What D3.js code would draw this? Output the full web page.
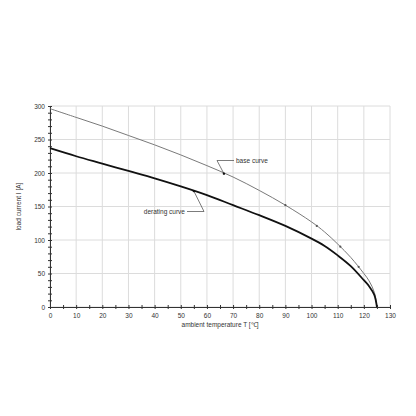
<!DOCTYPE html>
<html>
<head>
<meta charset="utf-8">
<script src="https://cdn.jsdelivr.net/npm/d3@7"></script>
<style>
  body { margin: 0; background: #fff; }
  svg text { font-family: "Liberation Sans", Arial, sans-serif; fill: #333; }
</style>
</head>
<body>
<div id="chart"></div>
<script>
// data
var temps = [0, 10, 20, 30, 40, 50, 60, 70, 80, 90, 100, 105, 110, 115, 120, 122, 124, 125]
var baseCurve = [296, 283, 270, 256, 242, 227, 211, 194, 174, 152, 127, 112, 94, 74, 50, 39, 22, 0]
var deratingCurve = [237, 225, 214, 203, 192, 180, 167, 152, 137, 121, 102, 91, 77, 61, 40, 31, 18, 0]
var baseMarkers = [[90, 152], [102, 121], [111, 90], [118, 60]]
var xTicks = d3.range(0, 131, 10)
var yTicks = d3.range(0, 301, 50)
var labels = [
  { text: 'base curve', at: [66.5, 199], bend: [217, 160.5], end: [234, 160.5], anchor: 'start' },
  { text: 'derating curve', at: [55, 173], bend: [204, 211.5], end: [187, 211.5], anchor: 'end' }
]

var w = 416
var h = 416
var mLeft = 50, mRight = 390, mTop = 106, mBottom = 307

var svg = d3.select('#chart')
  .append('svg')
  .attr('width', w)
  .attr('height', h)

var x = d3.scaleLinear().domain([0, 130]).range([mLeft, mRight])
var y = d3.scaleLinear().domain([0, 300]).range([mBottom, mTop])

// grid
svg.append('g')
  .selectAll('line')
  .data(xTicks)
  .enter()
  .append('line')
  .attr('x1', d => x(d)).attr('x2', d => x(d))
  .attr('y1', mTop).attr('y2', mBottom)
  .attr('stroke', '#dcdcdc')
  .attr('stroke-width', 1)

svg.append('g')
  .selectAll('line')
  .data(yTicks)
  .enter()
  .append('line')
  .attr('x1', mLeft).attr('x2', mRight)
  .attr('y1', d => y(d)).attr('y2', d => y(d))
  .attr('stroke', '#dcdcdc')
  .attr('stroke-width', 1)

// axes
var xAxis = svg.append('g')
  .attr('transform', 'translate(0,' + mBottom + ')')
  .call(d3.axisBottom(x).tickValues(d3.range(0, 131, 5)).tickSize(2).tickFormat(d => d % 10 === 0 ? d : ''))
xAxis.select('.domain').attr('stroke', '#333')
xAxis.selectAll('.tick line').attr('stroke', '#333').attr('y1', -2)
xAxis.selectAll('text').attr('font-size', 6.5).attr('dy', '0.9em')

var yAxis = svg.append('g')
  .attr('transform', 'translate(' + mLeft + ',0)')
  .call(d3.axisLeft(y).tickValues(d3.range(0, 301, 10)).tickSize(2).tickFormat(d => d % 50 === 0 ? d : ''))
yAxis.select('.domain').attr('stroke', '#333')
yAxis.selectAll('.tick line').attr('stroke', '#333').attr('x1', 2)
yAxis.selectAll('text').attr('font-size', 6.5).attr('x', -5)

svg.append('text')
  .attr('x', x(65))
  .attr('y', 327)
  .attr('text-anchor', 'middle')
  .attr('font-size', 6.5)
  .text('ambient temperature T [\u2103]')

svg.append('text')
  .attr('transform', 'translate(21,' + ((mTop + mBottom) / 2) + ') rotate(-90)')
  .attr('text-anchor', 'middle')
  .attr('font-size', 6.5)
  .text('load current I [A]')

// curves
var line = d3.line()
  .x(d => x(d[0]))
  .y(d => y(d[1]))
  .curve(d3.curveCatmullRom.alpha(0.5))

svg.append('path')
  .datum(temps.map((t, i) => [t, baseCurve[i]]))
  .attr('d', line)
  .attr('fill', 'none')
  .attr('stroke', '#7a7a7a')
  .attr('stroke-width', 1)

svg.append('path')
  .datum(temps.map((t, i) => [t, deratingCurve[i]]))
  .attr('d', line)
  .attr('fill', 'none')
  .attr('stroke', '#111')
  .attr('stroke-width', 1.8)

svg.selectAll('.mark')
  .data(baseMarkers)
  .enter()
  .append('circle')
  .attr('class', 'mark')
  .attr('cx', d => x(d[0]))
  .attr('cy', d => y(d[1]))
  .attr('r', 1.1)
  .attr('fill', '#555')

// leader lines and labels
labels.forEach(function(l) {
  svg.append('polyline')
    .attr('points', [[x(l.at[0]), y(l.at[1])], l.bend, l.end].map(p => p.join(',')).join(' '))
    .attr('fill', 'none')
    .attr('stroke', '#444')
    .attr('stroke-width', 0.7)
  svg.append('circle')
    .attr('cx', x(l.at[0]))
    .attr('cy', y(l.at[1]))
    .attr('r', 1.2)
    .attr('fill', '#111')
  svg.append('text')
    .attr('x', l.anchor === 'start' ? l.end[0] + 2 : l.end[0] - 2)
    .attr('y', l.end[1])
    .attr('dy', '0.35em')
    .attr('text-anchor', l.anchor)
    .attr('font-size', 6.5)
    .text(l.text)
})
</script>
</body>
</html>
